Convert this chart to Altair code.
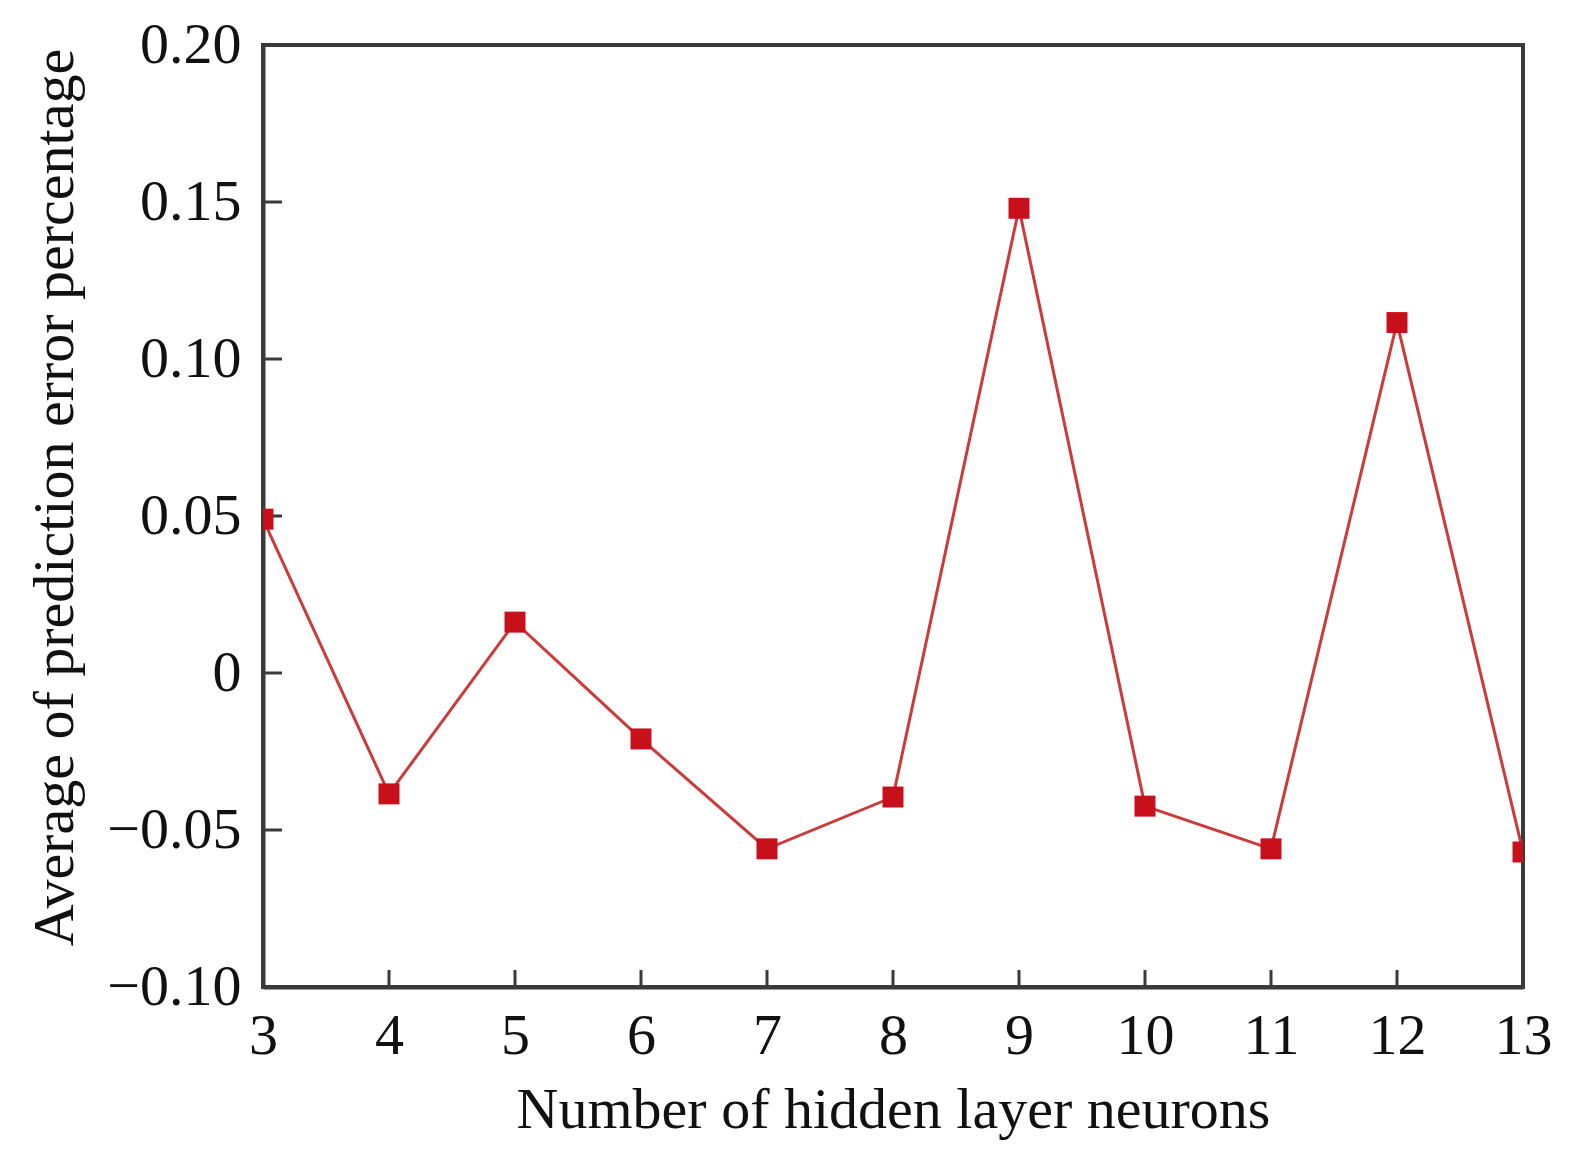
import altair as alt
import pandas as pd

neurons = [3, 4, 5, 6, 7, 8, 9, 10, 11, 12, 13]
error_avg = [0.049, -0.0385, 0.0162, -0.021, -0.056, -0.0395, 0.148, -0.0424, -0.056, 0.1116, -0.057]
x_ticks = [4, 5, 6, 7, 8, 9, 10, 11, 12]
y_ticks = [-0.05, 0.0, 0.05, 0.10, 0.15]

df = pd.DataFrame({"n": neurons, "e": error_avg})
xt = pd.DataFrame({"t": x_ticks})
yt = pd.DataFrame({"t": y_ticks})

W, H = 1260, 942
FONT = "Liberation Serif"
FRAME = "#3a3a3a"

xscale = alt.Scale(domain=[3, 13], nice=False, zero=False)
yscale = alt.Scale(domain=[-0.10, 0.20], nice=False, zero=False)

xaxis = alt.Axis(
    values=list(range(3, 14)), format="d", ticks=False, grid=False,
    labelFont=FONT, labelFontSize=58, labelColor="#111", labelPadding=20,
    labelFlush=False, labelOverlap=False,
    domainColor=FRAME, domainWidth=4,
    title="Number of hidden layer neurons", titleFont=FONT, titleFontSize=58,
    titleFontWeight="normal", titleColor="#111", titlePadding=16,
)
yaxis = alt.Axis(
    values=[-0.10, -0.05, 0.0, 0.05, 0.10, 0.15, 0.20], ticks=False, grid=False,
    labelExpr="datum.value == 0 ? '0' : replace(format(datum.value, '.2f'), '-', '\u2212')",
    labelFont=FONT, labelFontSize=58, labelColor="#111", labelPadding=22,
    labelFlush=False, labelOverlap=False,
    domainColor=FRAME, domainWidth=4,
    title="Average of prediction error percentage", titleFont=FONT, titleFontSize=58,
    titleFontWeight="normal", titleColor="#111",
    titleX=-208, titleY=452, titleAngle=270, titleAlign="center", titleBaseline="middle",
)

base = alt.Chart(df)

line = base.mark_line(color="#cc3a3a", strokeWidth=3, clip=True).encode(
    x=alt.X("n:Q", scale=xscale, axis=xaxis),
    y=alt.Y("e:Q", scale=yscale, axis=yaxis),
)
pts = base.mark_square(color="#c8101a", size=440, opacity=1, clip=True).encode(
    x=alt.X("n:Q", scale=xscale),
    y=alt.Y("e:Q", scale=yscale),
)
xticks = alt.Chart(xt).mark_rule(color=FRAME, strokeWidth=3).encode(
    x=alt.X("t:Q", scale=xscale),
    y=alt.value(H), y2=alt.value(H - 17),
)
yticks = alt.Chart(yt).mark_rule(color=FRAME, strokeWidth=3).encode(
    y=alt.Y("t:Q", scale=yscale),
    x=alt.value(0), x2=alt.value(19),
)

chart = alt.layer(xticks, yticks, line, pts).properties(
    width=W, height=H,
    background="white",
    autosize=alt.AutoSizeParams(type="none"),
    padding={"left": 255, "top": 37, "right": 40, "bottom": 160},
).configure_view(stroke=FRAME, strokeWidth=4)

chart.save("out.html", embed_options={"renderer": "svg", "actions": False})
